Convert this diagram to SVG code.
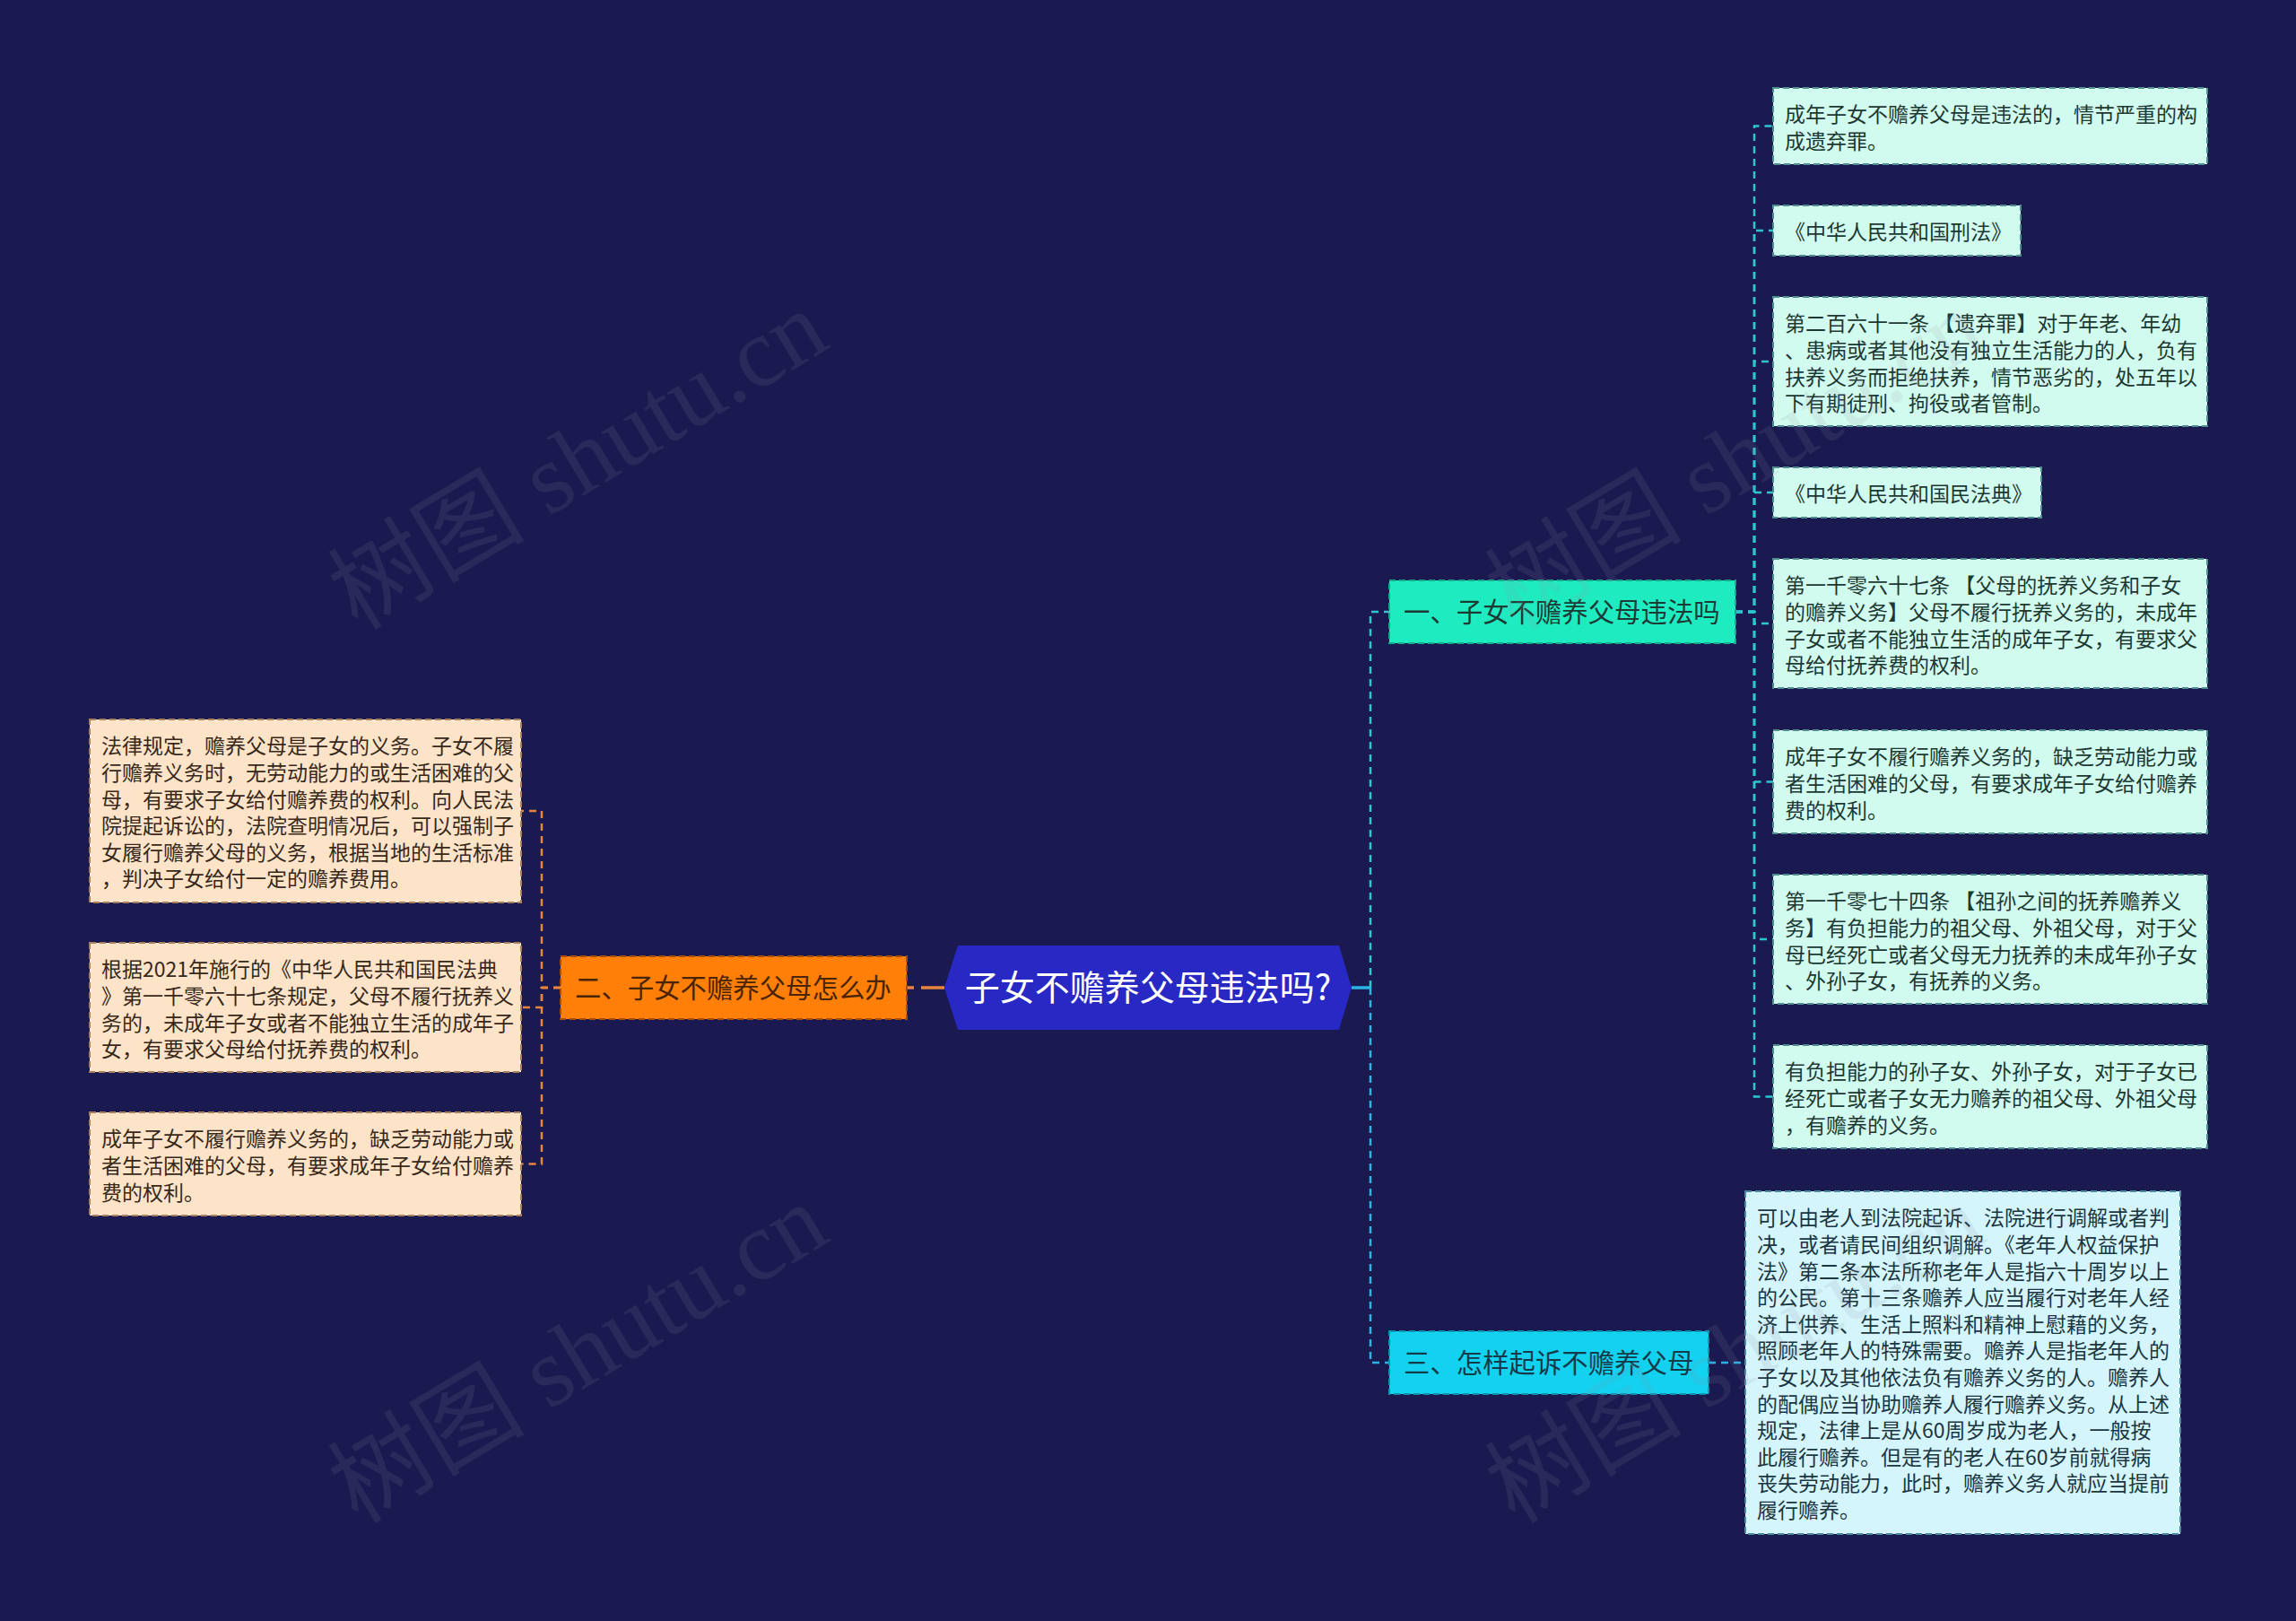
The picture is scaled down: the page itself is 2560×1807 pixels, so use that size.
<svg xmlns="http://www.w3.org/2000/svg" width="2560" height="1807" viewBox="0 0 2560 1807">
<style>
.t{font-family:"Noto Sans CJK SC","Noto Sans",sans-serif;}
.leafR{fill:#d2fbef;stroke:#4f8e8c;stroke-width:2;stroke-dasharray:7 4;}
.leafC{fill:#d3f5fb;stroke:#4c8aa0;stroke-width:2;stroke-dasharray:7 4;}
.leafL{fill:#fde4c9;stroke:#a8805c;stroke-width:2;stroke-dasharray:7 4;}
.lt{font-size:23px;fill:#1c3833;}
.ltl{font-size:23px;fill:#37281a;}
.ltc{font-size:23px;fill:#1b3541;}
.n1{font-size:29.4px;}
.cR{fill:none;stroke:#2cc6cf;stroke-width:2.5;stroke-dasharray:8 6;}
.cB{fill:none;stroke:#2ab3e6;stroke-width:2.5;stroke-dasharray:8 6;}
.cL{fill:none;stroke:#e8843c;stroke-width:2.5;stroke-dasharray:8 6;}
.root{stroke-width:3.5;stroke-dasharray:26 8;}
.wm{font-family:"Liberation Serif","Noto Sans CJK SC",serif;font-size:110px;fill:#9090a8;opacity:0.13;}
</style>
<rect width="2560" height="1807" fill="#1b1a50"/>

<g id="connectors">
  <path class="cL root" d="M1053,1101 H1011"/>
  <path class="cL" d="M625,1101 H604 V904 H581"/>
  <path class="cL" d="M625,1101 H604 V1123 H581"/>
  <path class="cL" d="M625,1101 H604 V1297.5 H581"/>
  <path class="cB root" d="M1507,1101 H1528"/>
  <path class="cR" d="M1528,1101 V682 H1549"/>
  <path class="cB" d="M1528,1101 V1519 H1549"/>
  <path class="cR" d="M1935,682 H1956 V140.5 H1977"/>
  <path class="cR" d="M1935,682 H1956 V257 H1977"/>
  <path class="cR" d="M1935,682 H1956 V403 H1977"/>
  <path class="cR" d="M1935,682 H1956 V549 H1977"/>
  <path class="cR" d="M1935,682 H1956 V695 H1977"/>
  <path class="cR" d="M1935,682 H1956 V871.5 H1977"/>
  <path class="cR" d="M1935,682 H1956 V1047 H1977"/>
  <path class="cR" d="M1935,682 H1956 V1222.5 H1977"/>
  <path class="cB" d="M1905,1519 H1946"/>
</g>

<g id="root">
  <polygon points="1053,1101 1068,1054 1493,1054 1507,1101 1493,1148 1068,1148" fill="#2828c4"/>
  <text class="t" x="1280" y="1115" text-anchor="middle" font-size="39" fill="#ffffff">子女不赡养父母违法吗?</text>
</g>

<g id="branch1">
  <rect x="1549" y="647" width="386" height="70" fill="#1eecc0" stroke="#17a88c" stroke-width="2" stroke-dasharray="7 4"/>
  <text class="t n1" x="1565" y="693" fill="#1d3a35">一、子女不赡养父母违法吗</text>
</g>
<g id="branch2">
  <rect x="625" y="1066" width="386" height="70" fill="#ff7f08" stroke="#a84e00" stroke-width="2" stroke-dasharray="7 4"/>
  <text class="t n1" x="641" y="1112" fill="#4a2505">二、子女不赡养父母怎么办</text>
</g>
<g id="branch3">
  <rect x="1549" y="1484" width="356" height="70" fill="#12d2f0" stroke="#0c93ad" stroke-width="2" stroke-dasharray="7 4"/>
  <text class="t n1" x="1565" y="1530" fill="#153a48">三、怎样起诉不赡养父母</text>
</g>

<g id="r1">
  <rect class="leafR" x="1977" y="98" width="484" height="85"/>
  <text class="t lt" x="1990" y="136.3">成年子女不赡养父母是违法的，情节严重的构</text>
  <text class="t lt" x="1990" y="165.9">成遗弃罪。</text>
</g>
<g id="r2">
  <rect class="leafR" x="1977" y="229" width="276" height="56"/>
  <text class="t lt" x="1990" y="267.3">《中华人民共和国刑法》</text>
</g>
<g id="r3">
  <rect class="leafR" x="1977" y="331" width="484" height="144"/>
  <text class="t lt" x="1990" y="369.3">第二百六十一条 【遗弃罪】对于年老、年幼</text>
  <text class="t lt" x="1990" y="398.9">、患病或者其他没有独立生活能力的人，负有</text>
  <text class="t lt" x="1990" y="428.5">扶养义务而拒绝扶养，情节恶劣的，处五年以</text>
  <text class="t lt" x="1990" y="458.1">下有期徒刑、拘役或者管制。</text>
</g>
<g id="r4">
  <rect class="leafR" x="1977" y="521" width="299" height="56"/>
  <text class="t lt" x="1990" y="559.3">《中华人民共和国民法典》</text>
</g>
<g id="r5">
  <rect class="leafR" x="1977" y="623" width="484" height="144"/>
  <text class="t lt" x="1990" y="661.3">第一千零六十七条 【父母的抚养义务和子女</text>
  <text class="t lt" x="1990" y="690.9">的赡养义务】父母不履行抚养义务的，未成年</text>
  <text class="t lt" x="1990" y="720.5">子女或者不能独立生活的成年子女，有要求父</text>
  <text class="t lt" x="1990" y="750.1">母给付抚养费的权利。</text>
</g>
<g id="r6">
  <rect class="leafR" x="1977" y="814" width="484" height="115"/>
  <text class="t lt" x="1990" y="852.3">成年子女不履行赡养义务的，缺乏劳动能力或</text>
  <text class="t lt" x="1990" y="881.9">者生活困难的父母，有要求成年子女给付赡养</text>
  <text class="t lt" x="1990" y="911.5">费的权利。</text>
</g>
<g id="r7">
  <rect class="leafR" x="1977" y="975" width="484" height="144"/>
  <text class="t lt" x="1990" y="1013.3">第一千零七十四条 【祖孙之间的抚养赡养义</text>
  <text class="t lt" x="1990" y="1042.9">务】有负担能力的祖父母、外祖父母，对于父</text>
  <text class="t lt" x="1990" y="1072.5">母已经死亡或者父母无力抚养的未成年孙子女</text>
  <text class="t lt" x="1990" y="1102.1">、外孙子女，有抚养的义务。</text>
</g>
<g id="r8">
  <rect class="leafR" x="1977" y="1165" width="484" height="115"/>
  <text class="t lt" x="1990" y="1203.3">有负担能力的孙子女、外孙子女，对于子女已</text>
  <text class="t lt" x="1990" y="1232.9">经死亡或者子女无力赡养的祖父母、外祖父母</text>
  <text class="t lt" x="1990" y="1262.5">，有赡养的义务。</text>
</g>

<g id="c1">
  <rect class="leafC" x="1946" y="1328" width="485" height="382"/>
  <text class="t ltc" x="1959" y="1366.3">可以由老人到法院起诉、法院进行调解或者判</text>
  <text class="t ltc" x="1959" y="1395.9">决，或者请民间组织调解。《老年人权益保护</text>
  <text class="t ltc" x="1959" y="1425.5">法》第二条本法所称老年人是指六十周岁以上</text>
  <text class="t ltc" x="1959" y="1455.1">的公民。第十三条赡养人应当履行对老年人经</text>
  <text class="t ltc" x="1959" y="1484.7">济上供养、生活上照料和精神上慰藉的义务，</text>
  <text class="t ltc" x="1959" y="1514.3">照顾老年人的特殊需要。赡养人是指老年人的</text>
  <text class="t ltc" x="1959" y="1543.9">子女以及其他依法负有赡养义务的人。赡养人</text>
  <text class="t ltc" x="1959" y="1573.5">的配偶应当协助赡养人履行赡养义务。从上述</text>
  <text class="t ltc" x="1959" y="1603.1">规定，法律上是从60周岁成为老人，一般按</text>
  <text class="t ltc" x="1959" y="1632.7">此履行赡养。但是有的老人在60岁前就得病</text>
  <text class="t ltc" x="1959" y="1662.3">丧失劳动能力，此时，赡养义务人就应当提前</text>
  <text class="t ltc" x="1959" y="1691.9">履行赡养。</text>
</g>

<g id="l1">
  <rect class="leafL" x="100" y="802" width="481" height="204"/>
  <text class="t ltl" x="113" y="840.3">法律规定，赡养父母是子女的义务。子女不履</text>
  <text class="t ltl" x="113" y="869.9">行赡养义务时，无劳动能力的或生活困难的父</text>
  <text class="t ltl" x="113" y="899.5">母，有要求子女给付赡养费的权利。向人民法</text>
  <text class="t ltl" x="113" y="929.1">院提起诉讼的，法院查明情况后，可以强制子</text>
  <text class="t ltl" x="113" y="958.7">女履行赡养父母的义务，根据当地的生活标准</text>
  <text class="t ltl" x="113" y="988.3">，判决子女给付一定的赡养费用。</text>
</g>
<g id="l2">
  <rect class="leafL" x="100" y="1051" width="481" height="144"/>
  <text class="t ltl" x="113" y="1089.3">根据2021年施行的《中华人民共和国民法典</text>
  <text class="t ltl" x="113" y="1118.9">》第一千零六十七条规定，父母不履行抚养义</text>
  <text class="t ltl" x="113" y="1148.5">务的，未成年子女或者不能独立生活的成年子</text>
  <text class="t ltl" x="113" y="1178.1">女，有要求父母给付抚养费的权利。</text>
</g>
<g id="l3">
  <rect class="leafL" x="100" y="1240" width="481" height="115"/>
  <text class="t ltl" x="113" y="1278.3">成年子女不履行赡养义务的，缺乏劳动能力或</text>
  <text class="t ltl" x="113" y="1307.9">者生活困难的父母，有要求成年子女给付赡养</text>
  <text class="t ltl" x="113" y="1337.5">费的权利。</text>
</g>

<g id="watermark">
  <text class="wm" x="645" y="550" text-anchor="middle" transform="rotate(-31 645 514)">树图 shutu.cn</text>
  <text class="wm" x="645" y="1546" text-anchor="middle" transform="rotate(-31 645 1510)">树图 shutu.cn</text>
  <text class="wm" x="1935" y="550" text-anchor="middle" transform="rotate(-31 1935 514)">树图 shutu.cn</text>
  <text class="wm" x="1935" y="1546" text-anchor="middle" transform="rotate(-31 1935 1510)">树图 shutu.cn</text>
</g>
</svg>
